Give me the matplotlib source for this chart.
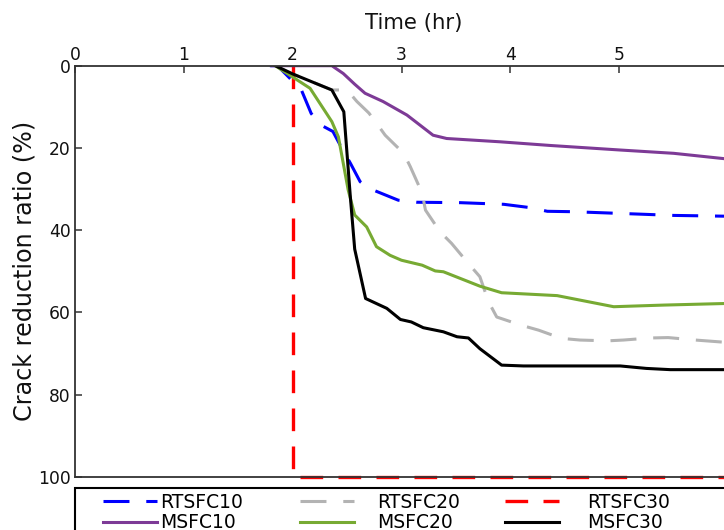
import matplotlib
matplotlib.use("Agg")
import matplotlib.pyplot as plt
from matplotlib.patches import Rectangle

# ---------------- data ----------------
rtsfc10_t = [1.79, 1.86, 2.08, 2.17, 2.25, 2.37, 2.42, 2.53, 2.62, 2.70, 2.97, 3.14, 3.54, 3.94, 4.18, 4.34, 4.58, 4.89, 5.20, 5.50, 6.00]
rtsfc10_r = [0.0, 0.0, 5.9, 11.6, 14.3, 16.0, 18.5, 23.7, 28.2, 29.8, 32.7, 33.2, 33.3, 33.7, 34.5, 35.4, 35.5, 35.8, 36.1, 36.4, 36.6]

rtsfc20_t = [1.84, 2.00, 2.36, 2.50, 2.59, 2.70, 2.76, 2.85, 2.95, 3.02, 3.08, 3.19, 3.22, 3.355, 3.46, 3.615, 3.72, 3.80, 3.875, 4.10, 4.26, 4.47, 4.64, 4.89, 5.04, 5.285, 5.45, 5.70, 6.00]
rtsfc20_r = [0.0, 2.0, 5.9, 5.9, 8.7, 11.5, 13.6, 16.9, 19.5, 21.3, 24.5, 31.0, 35.1, 40.4, 43.2, 48.1, 51.3, 57.4, 61.1, 63.1, 64.3, 66.3, 66.7, 66.9, 66.7, 66.2, 66.1, 66.7, 67.3]

rtsfc30_t = [2.0, 2.0, 6.0]
rtsfc30_r = [0.0, 100.0, 100.0]

msfc10_t = [1.81, 2.36, 2.465, 2.57, 2.665, 2.83, 3.05, 3.29, 3.415, 3.905, 4.37, 5.01, 5.50, 6.00]
msfc10_r = [0.0, 0.0, 1.9, 4.5, 6.7, 8.7, 12.0, 16.9, 17.7, 18.5, 19.4, 20.5, 21.3, 22.7]

msfc20_t = [1.84, 2.16, 2.36, 2.42, 2.51, 2.57, 2.68, 2.77, 2.895, 3.00, 3.19, 3.31, 3.385, 3.72, 3.92, 4.43, 4.95, 5.06, 5.41, 6.00]
msfc20_r = [0.0, 5.5, 13.6, 17.3, 30.2, 36.3, 39.2, 44.0, 46.1, 47.3, 48.5, 49.9, 50.1, 53.6, 55.2, 55.9, 58.6, 58.5, 58.2, 57.8]

msfc30_t = [1.84, 2.00, 2.36, 2.47, 2.53, 2.57, 2.67, 2.865, 2.99, 3.09, 3.20, 3.385, 3.51, 3.615, 3.72, 3.92, 4.12, 5.01, 5.25, 5.47, 6.00]
msfc30_r = [0.0, 2.0, 5.9, 11.2, 31.9, 44.6, 56.6, 59.0, 61.7, 62.3, 63.7, 64.7, 65.9, 66.2, 68.8, 72.8, 73.0, 73.0, 73.6, 73.9, 73.9]

x_ticks = [0, 1, 2, 3, 4, 5, 6]
y_ticks = [0, 20, 40, 60, 80, 100]

# ---------------- figure ----------------
W, H = 724, 530
fig = plt.figure(figsize=(W / 100, H / 100), dpi=100)
plt.rcParams['font.family'] = ['DejaVu Sans']

def fx(px):
    return px / W

def fy(py):
    return 1 - py / H

ax_left, ax_right, ax_top, ax_bot = 75, 728, 65.7, 477
ax = fig.add_axes([fx(ax_left), fy(ax_bot), (ax_right - ax_left) / W, (ax_bot - ax_top) / H])

lw = 2.2
dash = (8.5, 5.5)
l1, = ax.plot(rtsfc10_t, rtsfc10_r, color='#0000FF', lw=lw, dashes=dash, label='RTSFC10')
l2, = ax.plot(rtsfc20_t, rtsfc20_r, color='#B3B3B3', lw=lw, dashes=dash, label='RTSFC20')
l3, = ax.plot(rtsfc30_t, rtsfc30_r, color='#FF0000', lw=2.4, dashes=(6.8, 4.6), label='RTSFC30', clip_on=False)
l4, = ax.plot(msfc10_t, msfc10_r, color='#7D3A96', lw=lw, label='MSFC10')
l5, = ax.plot(msfc20_t, msfc20_r, color='#77AA33', lw=lw, label='MSFC20')
l6, = ax.plot(msfc30_t, msfc30_r, color='#000000', lw=lw, label='MSFC30')

ax.set_xlim(0, 6)
ax.set_ylim(100, 0)
ax.set_xticks(x_ticks)
ax.set_yticks(y_ticks)
ax.xaxis.tick_top()
ax.xaxis.set_label_position('top')
ax.tick_params(axis='both', direction='in', length=5, width=1.1, color='#333333',
               labelsize=12.3, labelcolor='#111111')
ax.tick_params(axis='x', pad=1)
ax.tick_params(axis='y', pad=3)
for s in ax.spines.values():
    s.set_color('#333333')
    s.set_linewidth(1.3)

ax.set_xlabel('Time (hr)', fontsize=15.3, color='#111111')
ax.xaxis.set_label_coords((414 - ax_left) / (ax_right - ax_left), (ax_bot - 23) / (ax_bot - ax_top))
ax.xaxis.label.set_va('center')
ax.set_ylabel('Crack reduction ratio (%)', fontsize=17.2, color='#111111')
ax.yaxis.set_label_coords((25 - ax_left) / (ax_right - ax_left), 0.5)
ax.yaxis.label.set_va('center')

# ---------------- legend ----------------
fs = 13.5
fs_px = fs * 100 / 72
frame = Rectangle((fx(75), -0.2), 1.0, fy(487.5) + 0.2, transform=fig.transFigure,
                  fill=False, lw=1.5, ec='black', clip_on=False)
fig.add_artist(frame)

cols = [([l1, l4], 103, 3), ([l2, l5], 300, 23), ([l3, l6], 505, 28)]
for hs, xpx, gap in cols:
    leg = fig.legend(handles=hs, loc='upper left', bbox_to_anchor=(fx(xpx), fy(493)),
                     frameon=False, borderpad=0, borderaxespad=0, fontsize=fs,
                     handlelength=54 / fs_px, handletextpad=gap / fs_px,
                     labelspacing=0.06)

fig.savefig('out.png', dpi=100)
